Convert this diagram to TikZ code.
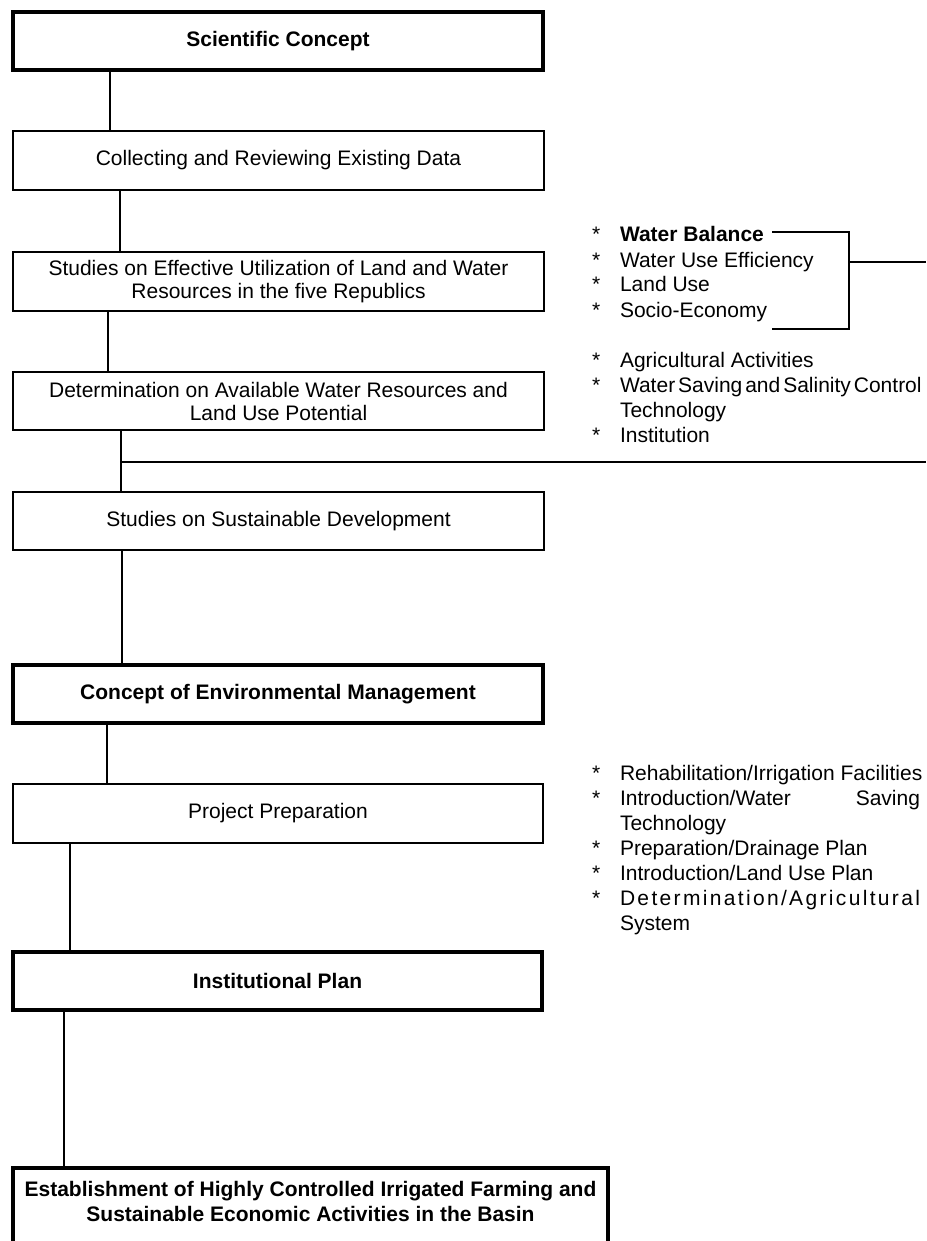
\documentclass[tikz,border=0pt]{standalone}
\usepackage{fontspec}
\setmainfont{Liberation Sans}
\begin{document}
\begin{tikzpicture}[x=1pt,y=-1pt,
  every node/.style={font=\fontsize{21}{23}\selectfont, inner sep=0pt, outer sep=0pt},
  box/.style={draw, line width=1.6pt, rectangle, align=center, minimum width=531pt, minimum height=58pt, anchor=north west},
  boldbox/.style={box, line width=4pt, font=\fontsize{21}{23}\selectfont\bfseries},
  link/.style={line width=1.5pt},
  listtext/.style={anchor=base west, font=\fontsize{21}{25}\selectfont},
  ]
\useasboundingbox (0,0) rectangle (926,1241);
\clip (0,0) rectangle (926,1241);

% boxes
\node[boldbox, minimum width=530pt] (b1) at (13,12) {Scientific Concept};
\node[box, minimum height=59pt] (b2) at (13,131) {Collecting and Reviewing Existing Data};
\node[box, minimum height=59pt] (b3) at (13,252) {Studies on Effective Utilization of Land and Water\\Resources in the five Republics};
\node[box] (b4) at (13,372) {Determination on Available Water Resources and\\Land Use Potential};
\node[box] (b5) at (13,492) {Studies on Sustainable Development};
\node[boldbox, minimum width=530pt] (b6) at (13,665) {Concept of Environmental Management};
\node[box, minimum width=530pt, minimum height=59pt] (b7) at (13,784) {Project Preparation};
\node[boldbox, minimum width=529pt] (b8) at (13,952) {Institutional Plan};
\node[boldbox, minimum width=595pt, minimum height=0pt, inner ysep=13.5pt, text depth=50pt, font=\fontsize{21}{25}\selectfont\bfseries] (b9) at (13,1168) {Establishment of Highly Controlled Irrigated Farming and\\Sustainable Economic Activities in the Basin};

% connector x positions
\coordinate (k12) at (110,0);
\coordinate (k23) at (120,0);
\coordinate (k34) at (108,0);
\coordinate (k45) at (121,0);
\coordinate (k56) at (122,0);
\coordinate (k67) at (107,0);
\coordinate (k78) at (70,0);
\coordinate (k89) at (64,0);

\draw[link] (b1.south -| k12) -- (b2.north -| k12);
\draw[link] (b2.south -| k23) -- (b3.north -| k23);
\draw[link] (b3.south -| k34) -- (b4.north -| k34);
\draw[link] (b4.south -| k45) -- (b5.north -| k45);
\draw[link] (b5.south -| k56) -- (b6.north -| k56);
\draw[link] (b6.south -| k67) -- (b7.north -| k67);
\draw[link] (b7.south -| k78) -- (b8.north -| k78);
\draw[link] (b8.south -| k89) -- (b9.north -| k89);

% horizontal line from the 4-5 connector
\coordinate (hR) at (926,462);
\draw[link] (k45 |- hR) -- (hR);

% right-hand lists
\node[listtext] (gA) at (592,242) {\begin{tabular}[t]{@{}l@{}l@{}}
\makebox[28pt][l]{*} & \textbf{Water Balance}\\
\makebox[28pt][l]{*} & Water Use Efficiency\\
\makebox[28pt][l]{*} & Land Use\\
\makebox[28pt][l]{*} & Socio-Economy
\end{tabular}};

\node[listtext] (gB) at (592,367) {\begin{tabular}[t]{@{}l@{}l@{}}
\makebox[28pt][l]{*} & Agricultural Activities\\
\makebox[28pt][l]{*} & {\spaceskip=0.14em plus 0.05em Water Saving and Salinity Control}\\
 & Technology\\
\makebox[28pt][l]{*} & Institution
\end{tabular}};

\node[listtext] (gC) at (592,780) {\begin{tabular}[t]{@{}l@{}l@{}}
\makebox[28pt][l]{*} & Rehabilitation/Irrigation Facilities\\
\makebox[28pt][l]{*} & \makebox[300pt][l]{Introduction/Water\hfill Saving}\\
 & Technology\\
\makebox[28pt][l]{*} & Preparation/Drainage Plan\\
\makebox[28pt][l]{*} & Introduction/Land Use Plan\\
\makebox[28pt][l]{*} & \makebox[300pt][l]{D\hfill e\hfill t\hfill e\hfill r\hfill m\hfill i\hfill n\hfill a\hfill t\hfill i\hfill o\hfill n\hfill /\hfill A\hfill g\hfill r\hfill i\hfill c\hfill u\hfill l\hfill t\hfill u\hfill r\hfill a\hfill l}\\
 & System
\end{tabular}};

% bracket around the first list
\coordinate (brTL) at (772,232);
\coordinate (brTR) at (849,232);
\coordinate (brBR) at (849,329);
\coordinate (brBL) at (772,329);
\coordinate (brR) at (926,262);
\draw[link] (brTL) -- (brTR) -- (brBR) -- (brBL);
\draw[link] (brTR |- brR) -- (brR);
\end{tikzpicture}
\end{document}
